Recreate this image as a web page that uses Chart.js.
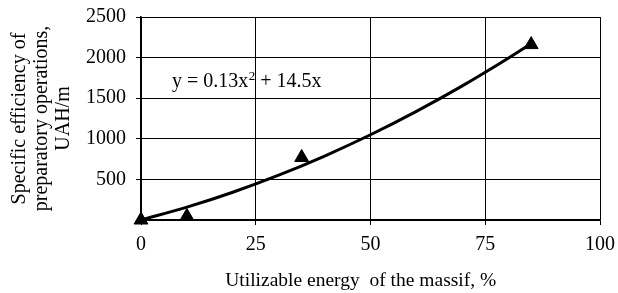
<!DOCTYPE html>
<html>
<head>
<meta charset="utf-8">
<script src="https://cdn.jsdelivr.net/npm/chart.js@4/dist/chart.umd.min.js"></script>
<style>
    html, body { margin: 0; padding: 0; background: #fff; }
    #wrap { width: 618px; height: 293px; }
</style>
</head>
<body>
<div id="wrap"><canvas id="energyChart" width="618" height="293"></canvas></div>
<script>
// measured points (triangles)
const pointX = [0, 10, 35, 85];
const pointY = [0, 45, 770, 2160];

// trend curve
const curveX = [0, 10, 20, 30, 40, 50, 60, 70, 80, 85];
const curveY = [0, 158, 342, 552, 788, 1050, 1338, 1652, 1992, 2172];

const xTicks = [0, 25, 50, 75, 100];
const yTicks = [0, 500, 1000, 1500, 2000, 2500];

const serif = "'Liberation Serif', 'DejaVu Serif', serif";

const toXY = (xs, ys) => xs.map((x, i) => ({ x: x, y: ys[i] }));

// equation label inside the plot
const equationPlugin = {
    id: 'equation',
    afterDatasetsDraw(chart) {
        const ctx = chart.ctx;
        const left = chart.chartArea.left + 31;
        const base = 87;
        ctx.save();
        ctx.fillStyle = '#000';
        ctx.textBaseline = 'alphabetic';
        ctx.textAlign = 'left';
        ctx.font = '20px ' + serif;
        const a = 'y = 0.13x';
        ctx.fillText(a, left, base);
        let w = ctx.measureText(a).width;
        ctx.font = '13px ' + serif;
        ctx.fillText('2', left + w + 0.5, base - 7);
        w += ctx.measureText('2').width + 0.5;
        ctx.font = '20px ' + serif;
        ctx.fillText(' + 14.5x', left + w, base);
        ctx.restore();
    }
};

const ctx = document.getElementById('energyChart');

new Chart(ctx, {
    type: 'scatter',
    data: {
        datasets: [{
            label: 'points',
            data: toXY(pointX, pointY),
            pointStyle: 'triangle',
            pointRadius: 8,
            backgroundColor: '#000',
            borderColor: '#000',
            borderWidth: 1,
            clip: false,
            order: 0
        }, {
            label: 'trend',
            type: 'line',
            data: toXY(curveX, curveY),
            showLine: true,
            borderColor: '#000',
            borderWidth: 3,
            pointRadius: 0,
            tension: 0.4,
            cubicInterpolationMode: 'monotone',
            fill: false,
            clip: false,
            order: 1
        }]
    },
    options: {
        responsive: false,
        animation: false,
        devicePixelRatio: 1,
        layout: { padding: { top: 17, right: 18, bottom: 0, left: 9 } },
        plugins: {
            legend: { display: false },
            tooltip: { enabled: false }
        },
        scales: {
            x: {
                type: 'linear',
                min: 0,
                max: 100,
                afterBuildTicks: (scale) => { scale.ticks = xTicks.map(v => ({ value: v })); },
                afterFit: (scale) => {
                    scale.height = 73;
                    scale.paddingLeft = 0;
                    scale.paddingRight = 0;
                },
                grid: { color: '#000', lineWidth: 1, tickLength: 5, tickColor: '#000' },
                border: { color: '#000', width: 1.5 },
                ticks: { color: '#000', font: { family: serif, size: 20 }, padding: 8, maxRotation: 0 },
                title: {
                    display: true,
                    // trailing nbsp nudges the centred title a little to the left
                    text: 'Utilizable energy  of the massif, %\u00a0\u00a0\u00a0\u00a0',
                    color: '#000',
                    font: { family: serif, size: 19.5 },
                    padding: { top: 8, bottom: 0 }
                }
            },
            y: {
                type: 'linear',
                min: 0,
                max: 2500,
                afterBuildTicks: (scale) => { scale.ticks = yTicks.map(v => ({ value: v })); },
                afterFit: (scale) => {
                    scale.width = 132;
                    scale.paddingTop = 0;
                    scale.paddingBottom = 0;
                },
                grid: { color: '#000', lineWidth: 1, tickLength: 5, tickColor: '#000' },
                border: { color: '#000', width: 1.5 },
                ticks: {
                    color: '#000',
                    font: { family: serif, size: 20 },
                    padding: 10,
                    callback: (v) => v === 0 ? '' : v
                },
                title: {
                    display: true,
                    text: ['Specific efficiency of', 'preparatory operations,', 'UAH/m'],
                    color: '#000',
                    font: { family: serif, size: 20, lineHeight: 1.1 },
                    padding: { top: 0, bottom: 0 }
                }
            }
        }
    },
    plugins: [equationPlugin]
});
</script>
</body>
</html>
